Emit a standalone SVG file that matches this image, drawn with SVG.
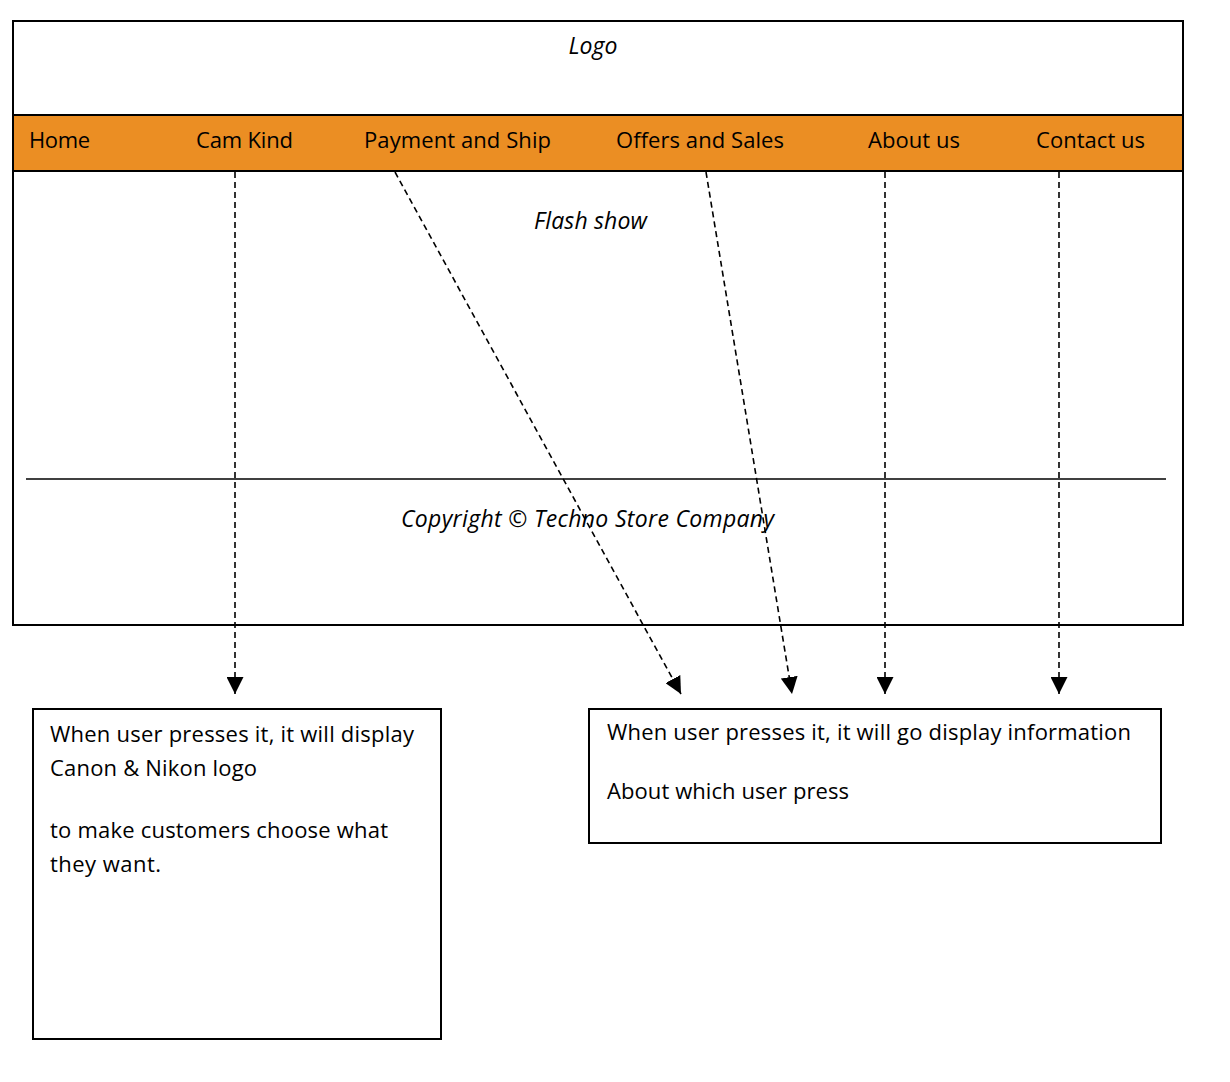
<svg xmlns="http://www.w3.org/2000/svg" width="1230" height="1082" viewBox="0 0 1230 1082">
<style>
text{font-family:"Open Sans","Liberation Sans",sans-serif;font-size:22px;fill:#000}
.it{font-style:italic;font-size:23px}
.box{fill:#fff;stroke:#000;stroke-width:2}
.conn{stroke:#000;stroke-width:1.6;stroke-dasharray:6,4;fill:none}
</style>
<defs>
<marker id="ah" viewBox="0 0 10 10" refX="10" refY="5" markerWidth="17" markerHeight="17" markerUnits="userSpaceOnUse" orient="auto">
<path d="M0,0 L10,5 L0,10 z" fill="#000"/>
</marker>
</defs>
<rect width="1230" height="1082" fill="#fff"/>
<g id="page">
<rect class="box" x="13" y="21" width="1170" height="604"/>
<rect x="13" y="115" width="1170" height="56" fill="#EB8E23" stroke="#000" stroke-width="2"/>
<text class="it" x="593" y="54" text-anchor="middle">Logo</text>
<text x="29" y="148" textLength="61">Home</text>
<text x="196" y="148" textLength="97">Cam Kind</text>
<text x="364" y="148" textLength="187">Payment and Ship</text>
<text x="616" y="148" textLength="168">Offers and Sales</text>
<text x="868" y="148" textLength="92">About us</text>
<text x="1036" y="148" textLength="109">Contact us</text>
<text class="it" x="534" y="229" textLength="113">Flash show</text>
<line x1="26" y1="479" x2="1166" y2="479" stroke="#000" stroke-width="1.5"/>
<text class="it" x="401" y="527" textLength="373">Copyright © Techno Store Company</text>
</g>
<g id="connectors">
<line class="conn" x1="235" y1="172" x2="235" y2="694" marker-end="url(#ah)"/>
<line class="conn" x1="395" y1="172" x2="681" y2="694" marker-end="url(#ah)"/>
<line class="conn" x1="706" y1="172" x2="792" y2="694" marker-end="url(#ah)"/>
<line class="conn" x1="885" y1="172" x2="885" y2="694" marker-end="url(#ah)"/>
<line class="conn" x1="1059" y1="172" x2="1059" y2="694" marker-end="url(#ah)"/>
</g>
<g id="note-left">
<rect class="box" x="33" y="709" width="408" height="330"/>
<text x="50" y="742" textLength="364">When user presses it, it will display</text>
<text x="50" y="776" textLength="207">Canon &amp; Nikon logo</text>
<text x="50" y="838" textLength="338">to make customers choose what</text>
<text x="50" y="872" textLength="111">they want.</text>
</g>
<g id="note-right">
<rect class="box" x="589" y="709" width="572" height="134"/>
<text x="607" y="740" textLength="524">When user presses it, it will go display information</text>
<text x="607" y="799" textLength="242">About which user press</text>
</g>
</svg>
